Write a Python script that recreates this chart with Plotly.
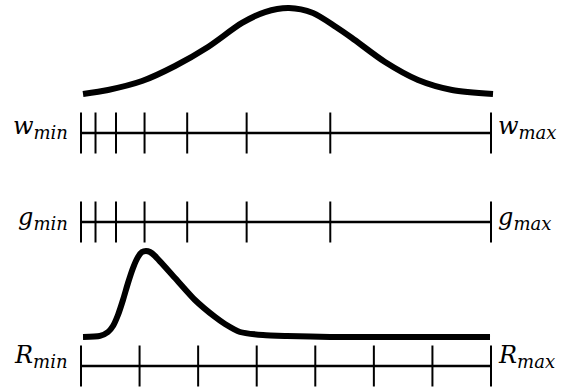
import plotly.graph_objects as go

# ---- data (x as fraction of the axis span, y as relative density) ----
gauss_x = [0.0049, 0.0659, 0.1488, 0.2293, 0.3098, 0.3927, 0.4488, 0.5073,
           0.5659, 0.6220, 0.6610, 0.7415, 0.8220, 0.9049, 1.0049]
gauss_y = [0.0, 0.047, 0.151, 0.326, 0.547, 0.826, 0.953, 1.0,
           0.942, 0.779, 0.651, 0.372, 0.163, 0.047, 0.0]

skew_x = [0.0049, 0.0463, 0.0659, 0.0780, 0.0902, 0.1024, 0.1146, 0.1268,
          0.1390, 0.1488, 0.1585, 0.1683, 0.1805, 0.2293, 0.2780, 0.3268,
          0.3512, 0.3878, 0.4439, 0.5024, 0.6073, 0.9976]
skew_y = [0.0, 0.012, 0.058, 0.128, 0.256, 0.430, 0.628, 0.802,
          0.930, 0.988, 1.0, 0.988, 0.942, 0.686, 0.430, 0.233,
          0.151, 0.058, 0.023, 0.012, 0.0, 0.0]

w_ticks = [0.0, 0.0354, 0.0854, 0.155, 0.259, 0.404, 0.608, 1.0]
g_ticks = [0.0, 0.0354, 0.0854, 0.155, 0.259, 0.404, 0.608, 1.0]
r_ticks = [0.0, 1/7, 2/7, 3/7, 4/7, 5/7, 6/7, 1.0]

labels_min = ["w", "g", "R"]

# ---- layout constants (pixel rows of the three number lines) ----
W, H = 563, 390
X0, XSPAN = 81, 410
rows = {"w": 133, "g": 222, "R": 366}
tick_half = 20.5
FONT = "DejaVu Serif"

fig = go.Figure()
fig.add_trace(go.Scatter(x=gauss_x, y=gauss_y, mode="lines",
                         line=dict(color="black", width=6, shape="spline", smoothing=0.8),
                         yaxis="y", hoverinfo="skip", showlegend=False))
fig.add_trace(go.Scatter(x=skew_x, y=skew_y, mode="lines",
                         line=dict(color="black", width=6, shape="spline", smoothing=0.6),
                         yaxis="y2", hoverinfo="skip", showlegend=False))
fig.add_trace(go.Scatter(x=[0], y=[0], mode="markers", marker=dict(opacity=0),
                         yaxis="y3", hoverinfo="skip", showlegend=False))

shapes = []
annotations = []
tick_sets = {"w": w_ticks, "g": g_ticks, "R": r_ticks}
label_shift = {"w": 6, "g": 4, "R": 10}
for name in labels_min:
    yr = rows[name]
    shapes.append(dict(type="line", xref="x", yref="y3", x0=0, x1=1, y0=yr, y1=yr,
                       line=dict(color="black", width=2.5)))
    for t in tick_sets[name]:
        shapes.append(dict(type="line", xref="x", yref="y3", x0=t, x1=t,
                           y0=yr - tick_half, y1=yr + tick_half,
                           line=dict(color="black", width=2)))
    for sub, xv, xa, xs in (("min", 0, "right", -11), ("max", 1, "left", 5)):
        annotations.append(dict(
            x=xv, y=yr, xref="x", yref="y3", xanchor=xa, yanchor="middle",
            xshift=xs, yshift=label_shift[name], showarrow=False,
            text=f'{name}<sub><span style="font-size:18px">{sub}</span></sub>',
            font=dict(family=FONT, size=24, color="black", style="italic")))

# axis ranges so that fraction 0 -> x=81px, 1 -> x=491px; curves 0..1 -> 86px tall
xr = [-X0 / XSPAN, (W - X0) / XSPAN]
g_base, g_scale = H - 94, 86
s_base, s_scale = H - 337, 86

fig.update_layout(
    width=W, height=H, margin=dict(l=0, r=0, t=0, b=0),
    paper_bgcolor="white", plot_bgcolor="white",
    xaxis=dict(range=xr, visible=False, fixedrange=True),
    yaxis=dict(range=[-g_base / g_scale, (H - g_base) / g_scale], visible=False),
    yaxis2=dict(range=[-s_base / s_scale, (H - s_base) / s_scale], visible=False,
                overlaying="y"),
    yaxis3=dict(range=[H, 0], visible=False, overlaying="y"),
    shapes=shapes, annotations=annotations,
)

fig.write_html("out.html", config={"displayModeBar": False},
               post_script="document.body.style.margin='0';document.body.style.overflow='hidden';")
